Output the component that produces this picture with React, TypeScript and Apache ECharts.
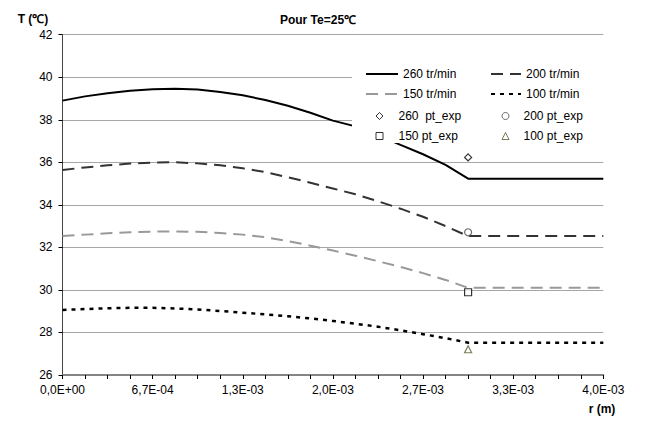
import React, { useEffect, useRef } from "react";
import * as echarts from "echarts";

// radial positions r (m)
const R = [
  0, 0.000167, 0.000333, 0.0005, 0.000667, 0.000833, 0.001, 0.001167, 0.001333,
  0.0015, 0.001667, 0.001833, 0.002, 0.002167, 0.002333, 0.0025, 0.002667,
  0.002833, 0.003, 0.003167, 0.003333, 0.0035, 0.003667, 0.003833, 0.004,
];

const T260 = [
  38.9, 39.1, 39.25, 39.36, 39.44, 39.46, 39.42, 39.31, 39.15, 38.93, 38.66,
  38.33, 37.96, 37.69, 37.27, 36.82, 36.38, 35.88, 35.23, 35.23, 35.23, 35.23,
  35.23, 35.23, 35.23,
];
const T200 = [
  35.64, 35.76, 35.86, 35.94, 35.99, 36.0, 35.95, 35.86, 35.72, 35.54, 35.3,
  35.04, 34.77, 34.5, 34.17, 33.82, 33.44, 33.0, 32.53, 32.53, 32.53, 32.53,
  32.53, 32.53, 32.53,
];
const T150 = [
  32.53, 32.6, 32.66, 32.71, 32.74, 32.75, 32.73, 32.68, 32.6, 32.48, 32.3,
  32.08, 31.85, 31.61, 31.35, 31.08, 30.79, 30.47, 30.1, 30.1, 30.1, 30.1,
  30.1, 30.1, 30.1,
];
const T100 = [
  29.06, 29.1, 29.14, 29.16, 29.16, 29.13, 29.08, 29.01, 28.93, 28.85, 28.76,
  28.66, 28.54, 28.41, 28.27, 28.1, 27.92, 27.73, 27.52, 27.52, 27.52, 27.52,
  27.52, 27.52, 27.52,
];

// experimental points
const EXP_R = 0.003;
const EXP260 = 36.23;
const EXP200 = 32.71;
const EXP150 = 29.89;
const EXP100 = 27.21;

const Y_MIN = 26;
const Y_MAX = 42;
const Y_STEP = 2;

const FONT = "Liberation Sans, Arial, sans-serif";

function fmtR(v: number): string {
  const s = v.toExponential(1);
  const [m, e] = s.split("e");
  const sign = e[0] === "-" ? "-" : "+";
  const d = Math.abs(parseInt(e, 10));
  return m.replace(".", ",") + "E" + sign + (d < 10 ? "0" + d : String(d));
}

export default function App() {
  const ref = useRef<HTMLDivElement>(null);

  useEffect(() => {
    if (!ref.current) return;
    const chart = echarts.init(ref.current, undefined, { renderer: "svg" });
    const cats = R.map(fmtR);
    const expIdx = R.indexOf(EXP_R);

    const lineSeries = (name: string, data: number[], color: string, type: any, width: number) => ({
      name,
      type: "line",
      data,
      symbol: "none",
      showSymbol: false,
      smooth: false,
      z: 2,
      lineStyle: { color, width, type },
      itemStyle: { color },
    });
    const ptSeries = (name: string, value: number, symbol: string, color: string, size: number) => ({
      name,
      type: "scatter",
      data: [[expIdx, value]],
      symbol,
      symbolSize: size,
      z: 6,
      itemStyle: { color: "#ffffff", borderColor: color, borderWidth: 1.2 },
    });

    const textStyle = { fontFamily: FONT, fontSize: 12, color: "#000" };
    const lineLegend = (name: string, left: number, cy: number, w: number) => ({
      orient: "horizontal",
      padding: 0,
      z: 10,
      left,
      top: cy - 6,
      itemWidth: w,
      itemHeight: 14,
      itemStyle: { opacity: 0 },
      textStyle,
      selectedMode: false,
      data: [name],
    });
    const ptLegend = (name: string, cx: number, cy: number, textX: number, color: string) => ({
      orient: "horizontal",
      padding: 0,
      z: 10,
      left: cx - 3.5,
      top: cy - 5,
      itemWidth: 7,
      itemHeight: 7,
      itemStyle: { color: "#ffffff", borderColor: color, borderWidth: 1 },
      textStyle: { ...textStyle, padding: [0, 0, 0, textX - (cx + 3.5 + 5)] },
      selectedMode: false,
      data: [name],
    });

    chart.setOption({
      animation: false,
      backgroundColor: "#ffffff",
      grid: { left: 62.5, right: 41.7, top: 34.7, bottom: 50, containLabel: false },
      xAxis: {
        type: "category",
        data: cats,
        boundaryGap: false,
        axisLine: { show: true, lineStyle: { color: "#858585", width: 2 } },
        axisTick: { show: true, interval: 0, length: 4, lineStyle: { color: "#000", width: 1 } },
        axisLabel: {
          interval: 3,
          margin: 9,
          fontFamily: FONT,
          fontSize: 12,
          color: "#000",
        },
        splitLine: { show: false },
      },
      yAxis: {
        type: "value",
        min: Y_MIN,
        max: Y_MAX,
        interval: Y_STEP,
        axisLine: { show: true, lineStyle: { color: "#444", width: 1 } },
        axisTick: { show: true, length: 4, lineStyle: { color: "#000" } },
        axisLabel: { margin: 10, fontFamily: FONT, fontSize: 12, color: "#000" },
        splitLine: { show: true, lineStyle: { color: "#a6a6a6", width: 1 } },
      },
      legend: [
        lineLegend("260 tr/min", 365, 74, 32),
        lineLegend("150 tr/min", 365, 94, 32),
        lineLegend("200 tr/min", 490, 74, 30),
        lineLegend("100 tr/min", 490, 94, 30),
        ptLegend("260  pt_exp", 379, 115, 398, "#000000"),
        ptLegend("150 pt_exp", 379, 135, 398, "#000000"),
        ptLegend("200 pt_exp", 505, 115, 523, "#444444"),
        ptLegend("100 pt_exp", 505, 135, 523, "#5c5c2a"),
      ],
      graphic: [
        {
          type: "rect",
          z: 5,
          shape: { x: 352, y: 60, width: 255, height: 83 },
          style: { fill: "#ffffff" },
        },
        {
          type: "text",
          x: 318,
          y: 20,
          style: {
            text: "Pour Te=25℃",
            fontFamily: FONT,
            fontSize: 12,
            fontWeight: "bold",
            fill: "#000",
            textAlign: "center",
            textVerticalAlign: "middle",
          },
        },
        {
          type: "text",
          x: 33,
          y: 19,
          style: {
            text: "T (℃)",
            fontFamily: FONT,
            fontSize: 12,
            fontWeight: "bold",
            fill: "#000",
            textAlign: "center",
            textVerticalAlign: "middle",
          },
        },
        {
          type: "text",
          x: 602,
          y: 409,
          style: {
            text: "r (m)",
            fontFamily: FONT,
            fontSize: 12,
            fontWeight: "bold",
            fill: "#000",
            textAlign: "center",
            textVerticalAlign: "middle",
          },
        },
      ],
      series: [
        lineSeries("260 tr/min", T260, "#000000", "solid", 2),
        lineSeries("200 tr/min", T200, "#333333", [12, 7], 2),
        lineSeries("150 tr/min", T150, "#999999", [12, 7], 2),
        lineSeries("100 tr/min", T100, "#000000", [4, 5], 2.5),
        ptSeries("260  pt_exp", EXP260, "diamond", "#000000", 7),
        ptSeries("200 pt_exp", EXP200, "circle", "#444444", 7),
        ptSeries("150 pt_exp", EXP150, "rect", "#000000", 7),
        ptSeries("100 pt_exp", EXP100, "triangle", "#5c5c2a", 7),
      ],
    });

    return () => chart.dispose();
  }, []);

  return (
    <div
      ref={ref}
      style={{ position: "fixed", left: 0, top: 0, width: 645, height: 425 }}
    />
  );
}
